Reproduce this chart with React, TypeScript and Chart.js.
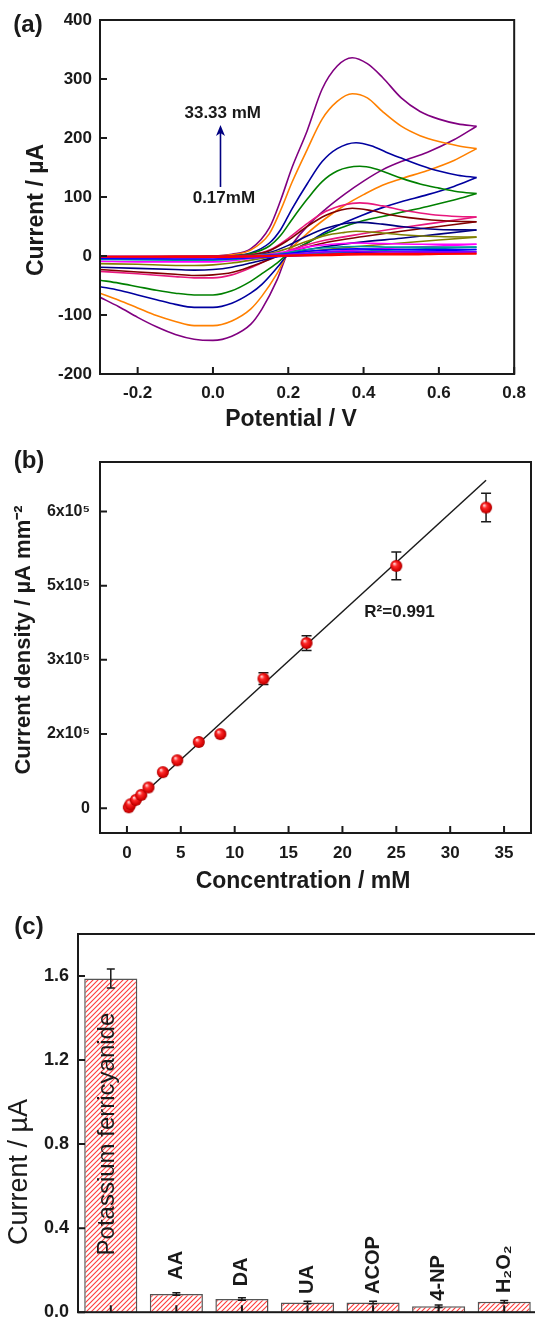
import React, { useEffect, useRef } from "react";
import { Chart, registerables } from "chart.js";
Chart.register(...registerables);

const FONT = '"Liberation Sans", Arial, Helvetica, sans-serif';
const INK = "#1a1a1a";

// ---------------- Panel (a): cyclic voltammograms ----------------
const xTicksA = [-0.2, 0, 0.2, 0.4, 0.6, 0.8];
const yTicksA = [-200, -100, 0, 100, 200, 300, 400];
const cvColors = [
  "#FF0000", "#7F00FF", "#0000FF", "#009999", "#FF00FF", "#808000", "#000080",
  "#800000", "#E8177D", "#008000", "#00009F", "#FF8000", "#800080",
];
const fwd01 = [[-0.3,-1],[0,0],[0.1,0],[0.2,1],[0.3,3],[0.38,4],[0.5,4],[0.7,4]];
const rev01 = [[0.7,4],[0.6,3],[0.5,2],[0.4,2],[0.3,1],[0.2,0],[0.1,-1],[0,-2],[-0.3,-1]];
const fwd02 = [[-0.3,-1],[0,-1],[0.1,0],[0.2,3],[0.25,5],[0.3,7],[0.38,8],[0.5,7],[0.7,7]];
const rev02 = [[0.7,7],[0.6,6],[0.5,5],[0.4,4],[0.3,2],[0.2,0],[0.1,-2],[0,-3],[-0.1,-3],[-0.3,-2]];
const fwd03 = [[-0.3,-1],[0,-1],[0.1,0],[0.15,1],[0.2,4],[0.25,8],[0.3,10],[0.38,12],[0.5,11],[0.7,11]];
const rev03 = [[0.7,11],[0.6,9],[0.5,8],[0.4,6],[0.3,3],[0.2,0],[0.1,-3],[0,-5],[-0.1,-5],[-0.3,-4]];
const fwd04 = [[-0.3,-2],[0,-1],[0.1,0],[0.15,2],[0.2,6],[0.25,11],[0.3,14],[0.38,16],[0.5,15],[0.7,15]];
const rev04 = [[0.7,15],[0.6,13],[0.5,11],[0.4,8],[0.3,5],[0.2,1],[0.1,-3],[0.05,-6],[0,-7],[-0.1,-7],[-0.3,-6]];
const fwd05 = [[-0.3,-2],[0,-1],[0.1,0],[0.15,3],[0.2,8],[0.25,15],[0.3,19],[0.38,22],[0.45,21],[0.55,20],[0.7,20]];
const rev05 = [[0.7,20],[0.6,17],[0.5,14],[0.4,11],[0.3,7],[0.2,2],[0.15,-1],[0.1,-4],[0.05,-8],[0,-10],[-0.1,-10],[-0.2,-10],[-0.3,-9]];
const fwd06 = [[-0.3,-2],[-0.1,-1],[0,-1],[0.1,1],[0.15,4],[0.2,13],[0.25,25],[0.3,35],[0.35,40],[0.38,42],[0.45,39],[0.5,36],[0.6,33],[0.7,32]];
const rev06 = [[0.7,32],[0.6,27],[0.5,22],[0.4,17],[0.3,11],[0.2,3],[0.15,-2],[0.1,-7],[0.05,-12],[0,-15],[-0.05,-16],[-0.1,-16],[-0.2,-14],[-0.3,-13]];
const fwd07 = [[-0.3,-3],[-0.1,-2],[0,-1],[0.1,1],[0.15,6],[0.2,18],[0.25,34],[0.3,47],[0.35,55],[0.39,57],[0.45,54],[0.5,50],[0.55,47],[0.6,45],[0.7,44]];
const rev07 = [[0.7,44],[0.6,37],[0.5,30],[0.4,24],[0.3,16],[0.2,4],[0.15,-4],[0.1,-12],[0.05,-19],[0,-23],[-0.05,-24],[-0.1,-23],[-0.2,-21],[-0.3,-19]];
const fwd08 = [[-0.3,-3],[-0.2,-2],[-0.1,-2],[0,-1],[0.1,2],[0.15,9],[0.2,27],[0.25,50],[0.3,69],[0.34,78],[0.37,81],[0.42,77],[0.47,70],[0.52,65],[0.58,61],[0.64,59],[0.7,58]];
const rev08 = [[0.7,58],[0.6,50],[0.5,42],[0.4,33],[0.3,23],[0.25,15],[0.2,6],[0.15,-6],[0.1,-18],[0.05,-28],[0,-32],[-0.05,-33],[-0.1,-31],[-0.2,-27],[-0.3,-23]];
const fwd09 = [[-0.3,-3],[-0.2,-2],[-0.1,-2],[0,-1],[0.1,2],[0.15,10],[0.2,30],[0.25,55],[0.3,76],[0.35,87],[0.39,90],[0.45,85],[0.5,78],[0.55,73],[0.6,69],[0.65,67],[0.7,66]];
const rev09 = [[0.7,66],[0.6,57],[0.5,48],[0.4,38],[0.3,27],[0.25,19],[0.2,9],[0.15,-5],[0.1,-20],[0.05,-32],[0,-37],[-0.05,-37],[-0.1,-35],[-0.2,-30],[-0.3,-26]];
const fwd10 = [[-0.3,-4],[-0.2,-3],[-0.1,-2],[0,-1],[0.05,0],[0.1,4],[0.15,17],[0.18,35],[0.21,62],[0.25,96],[0.29,126],[0.33,144],[0.39,152],[0.43,148],[0.47,139],[0.5,132],[0.55,122],[0.6,115],[0.65,109],[0.7,106]];
const rev10 = [[0.7,106],[0.64,95],[0.57,84],[0.5,74],[0.45,67],[0.4,60],[0.35,50],[0.3,38],[0.25,22],[0.2,4],[0.17,-12],[0.13,-30],[0.1,-43],[0.05,-59],[0,-66],[-0.05,-66],[-0.1,-63],[-0.15,-58],[-0.2,-52],[-0.25,-46],[-0.3,-41]];
const fwd11 = [[-0.3,-5],[-0.2,-4],[-0.1,-3],[0,-2],[0.05,0],[0.1,5],[0.15,22],[0.18,45],[0.21,80],[0.25,122],[0.29,160],[0.33,182],[0.38,192],[0.42,187],[0.46,176],[0.5,166],[0.55,154],[0.6,144],[0.65,137],[0.7,133]];
const rev11 = [[0.7,133],[0.64,118],[0.57,104],[0.5,92],[0.45,82],[0.4,70],[0.35,57],[0.3,41],[0.25,22],[0.2,3],[0.17,-20],[0.13,-48],[0.1,-63],[0.05,-80],[0,-87],[-0.05,-87],[-0.1,-82],[-0.15,-74],[-0.2,-66],[-0.25,-58],[-0.3,-52]];
const fwd12 = [[-0.3,-3],[-0.2,-2],[-0.1,-1],[0,0],[0.05,2],[0.1,10],[0.15,38],[0.18,78],[0.21,125],[0.25,180],[0.29,232],[0.33,262],[0.37,275],[0.41,268],[0.45,245],[0.5,220],[0.55,204],[0.6,194],[0.65,187],[0.7,182]];
const rev12 = [[0.7,182],[0.64,162],[0.57,145],[0.5,131],[0.45,120],[0.4,104],[0.35,86],[0.3,64],[0.25,38],[0.2,6],[0.17,-30],[0.13,-68],[0.1,-90],[0.05,-110],[0,-118],[-0.05,-118],[-0.1,-111],[-0.15,-101],[-0.2,-88],[-0.25,-75],[-0.3,-63]];
const fwd13 = [[-0.3,-3],[-0.2,-2],[-0.1,-1],[0,0],[0.05,3],[0.1,12],[0.15,48],[0.18,95],[0.21,150],[0.25,212],[0.29,283],[0.33,322],[0.37,336],[0.41,326],[0.45,303],[0.5,268],[0.55,245],[0.6,232],[0.65,224],[0.7,220]];
const rev13 = [[0.7,220],[0.64,197],[0.57,176],[0.5,160],[0.45,146],[0.4,127],[0.35,105],[0.3,80],[0.25,50],[0.2,8],[0.17,-41],[0.13,-90],[0.1,-116],[0.05,-136],[0,-143],[-0.05,-141],[-0.1,-133],[-0.15,-120],[-0.2,-104],[-0.25,-86],[-0.3,-70]];
const cvForward = [fwd01, fwd02, fwd03, fwd04, fwd05, fwd06, fwd07, fwd08, fwd09, fwd10, fwd11, fwd12, fwd13];
const cvReverse = [rev01, rev02, rev03, rev04, rev05, rev06, rev07, rev08, rev09, rev10, rev11, rev12, rev13];
const arrowTextA = ["33.33 mM", "0.17mM"];

// ---------------- Panel (b): calibration ----------------
const concB = [0.17, 0.33, 0.83, 1.33, 2.0, 3.33, 4.67, 6.67, 8.67, 12.67, 16.67, 25.0, 33.33];
const densityB = [0.02, 0.08, 0.17, 0.27, 0.42, 0.73, 0.97, 1.34, 1.5, 2.62, 3.34, 4.9, 6.08]; // x1e5
const densityErrB = [0.02, 0.02, 0.02, 0.03, 0.03, 0.04, 0.04, 0.05, 0.04, 0.12, 0.15, 0.28, 0.29];
const fitXB = [0.17, 33.33];
const fitYB = [0.02, 6.63];
const xTicksB = [0, 5, 10, 15, 20, 25, 30, 35];
const yTicksB = [0, 1.5, 3, 4.5, 6];
const yTickLabelsB = ["0", "2x10\u2075", "3x10\u2075", "5x10\u2075", "6x10\u2075"];
const r2TextB = "R\u00B2=0.991";

// ---------------- Panel (c): selectivity ----------------
const speciesC = ["Potassium ferricyanide", "AA", "DA", "UA", "ACOP", "4-NP", "H\u2082O\u2082"];
const currentC = [1.588, 0.087, 0.063, 0.046, 0.046, 0.028, 0.05];
const currentErrC = [0.045, 0.006, 0.006, 0.006, 0.006, 0.006, 0.006];
const yTicksC = [0, 0.4, 0.8, 1.2, 1.6];

function drawText(ctx: any, s: string, x: number, y: number, font: string, rot = 0, align = "center", baseline = "middle", color = INK) {
  ctx.save();
  ctx.translate(x, y);
  ctx.rotate(rot);
  ctx.font = font;
  ctx.fillStyle = color;
  ctx.textAlign = align;
  ctx.textBaseline = baseline;
  ctx.fillText(s, 0, 0);
  ctx.restore();
}

function baseOptions(padding: any) {
  return {
    responsive: false,
    animation: false,
    events: [],
    layout: { padding, autoPadding: false },
    plugins: { legend: { display: false }, tooltip: { enabled: false } },
  };
}

function makeSphere(r: number) {
  const c = document.createElement("canvas");
  const s = r * 2 + 2;
  c.width = s;
  c.height = s;
  const g = c.getContext("2d")!;
  const grad = g.createRadialGradient(s / 2 - r * 0.35, s / 2 - r * 0.4, r * 0.05, s / 2, s / 2, r);
  grad.addColorStop(0, "#ffe0e0");
  grad.addColorStop(0.35, "#ff2a2a");
  grad.addColorStop(0.85, "#d00000");
  grad.addColorStop(1, "#a00000");
  g.fillStyle = grad;
  g.beginPath();
  g.arc(s / 2, s / 2, r, 0, Math.PI * 2);
  g.fill();
  return c;
}

function makeHatch(ctx: any) {
  const c = document.createElement("canvas");
  c.width = 5;
  c.height = 5;
  const g = c.getContext("2d")!;
  g.fillStyle = "#ffffff";
  g.fillRect(0, 0, 5, 5);
  g.strokeStyle = "#ff3b3b";
  g.lineWidth = 1.1;
  g.beginPath();
  g.moveTo(-1, 6); g.lineTo(6, -1);
  g.moveTo(-1, 1); g.lineTo(1, -1);
  g.moveTo(4, 6); g.lineTo(6, 4);
  g.stroke();
  return ctx.createPattern(c, "repeat");
}

const tickFont = (size: number) => ({ size, weight: "bold" as const, family: FONT });

export default function App() {
  const refA = useRef<HTMLCanvasElement>(null);
  const refB = useRef<HTMLCanvasElement>(null);
  const refC = useRef<HTMLCanvasElement>(null);

  useEffect(() => {
    Chart.defaults.font.family = FONT;
    Chart.defaults.color = INK;
    const charts: Chart[] = [];

    // ---------- (a) ----------
    const dsA: any[] = [];
    cvForward.forEach((f, i) => {
      const common = {
        borderColor: cvColors[i], borderWidth: 1.6, pointRadius: 0, showLine: true,
        cubicInterpolationMode: "monotone", fill: false,
      };
      dsA.push({ ...common, data: f.map(([x, y]) => ({ x, y })) });
      dsA.push({ ...common, data: cvReverse[i].map(([x, y]) => ({ x, y })) });
    });
    const decorA = {
      id: "decorA",
      afterDraw(chart: any) {
        const { ctx, chartArea: ca, scales } = chart;
        const x = scales.x, y = scales.y;
        ctx.save();
        ctx.strokeStyle = INK;
        ctx.lineWidth = 2;
        ctx.strokeRect(ca.left, ca.top, ca.right - ca.left, ca.bottom - ca.top);
        ctx.beginPath();
        xTicksA.forEach((v) => { const p = x.getPixelForValue(v); ctx.moveTo(p, ca.bottom); ctx.lineTo(p, ca.bottom - 7); });
        yTicksA.forEach((v) => { const p = y.getPixelForValue(v); ctx.moveTo(ca.left, p); ctx.lineTo(ca.left + 7, p); });
        ctx.stroke();
        // arrow annotation
        const ax = x.getPixelForValue(0.02);
        const y1 = y.getPixelForValue(117);
        const y2 = y.getPixelForValue(222);
        ctx.strokeStyle = "#000080";
        ctx.fillStyle = "#000080";
        ctx.lineWidth = 1.6;
        ctx.beginPath();
        ctx.moveTo(ax, y1);
        ctx.lineTo(ax, y2 + 8);
        ctx.stroke();
        ctx.beginPath();
        ctx.moveTo(ax, y2);
        ctx.lineTo(ax - 4.5, y2 + 11);
        ctx.lineTo(ax, y2 + 8);
        ctx.lineTo(ax + 4.5, y2 + 11);
        ctx.closePath();
        ctx.fill();
        drawText(ctx, arrowTextA[0], x.getPixelForValue(0.026), y.getPixelForValue(242), `bold 17px ${FONT}`);
        drawText(ctx, arrowTextA[1], x.getPixelForValue(0.029), y.getPixelForValue(97), `bold 17px ${FONT}`);
        drawText(ctx, "(a)", 28, 25, `bold 24px ${FONT}`);
        drawText(ctx, "Current / \u00B5A", 37, 210, `bold 23px ${FONT}`, -Math.PI / 2);
        drawText(ctx, "Potential / V", 291, 420, `bold 23px ${FONT}`);
        ctx.restore();
      },
    };
    charts.push(new Chart(refA.current!, {
      type: "scatter",
      data: { datasets: dsA },
      options: {
        ...baseOptions({ top: 20, right: 14, left: 0, bottom: 0 }),
        scales: {
          x: {
            type: "linear", min: -0.3, max: 0.8,
            afterBuildTicks: (s: any) => { s.ticks = xTicksA.map((v) => ({ value: v })); },
            afterFit: (s: any) => { s.height = 66; },
            grid: { display: false, drawTicks: false }, border: { display: false },
            ticks: { font: tickFont(17), color: INK, padding: 9, maxRotation: 0, autoSkip: false, callback: (v: any) => Number(v).toFixed(1) },
          },
          y: {
            type: "linear", min: -200, max: 400,
            afterBuildTicks: (s: any) => { s.ticks = yTicksA.map((v) => ({ value: v })); },
            afterFit: (s: any) => { s.width = 100; },
            grid: { display: false, drawTicks: false }, border: { display: false },
            ticks: { font: tickFont(17), color: INK, padding: 8, autoSkip: false, callback: (v: any) => String(v) },
          },
        },
      } as any,
      plugins: [decorA],
    }));

    // ---------- (b) ----------
    const sphere = makeSphere(6);
    const decorB = {
      id: "decorB",
      beforeDatasetsDraw(chart: any) {
        const { ctx, scales } = chart;
        const x = scales.x, y = scales.y;
        ctx.save();
        ctx.strokeStyle = INK;
        ctx.lineWidth = 1.5;
        ctx.beginPath();
        concB.forEach((c, i) => {
          const px = x.getPixelForValue(c);
          const top = y.getPixelForValue(densityB[i] + densityErrB[i]);
          const bot = y.getPixelForValue(densityB[i] - densityErrB[i]);
          ctx.moveTo(px, top); ctx.lineTo(px, bot);
          ctx.moveTo(px - 5, top); ctx.lineTo(px + 5, top);
          ctx.moveTo(px - 5, bot); ctx.lineTo(px + 5, bot);
        });
        ctx.stroke();
        ctx.restore();
      },
      afterDraw(chart: any) {
        const { ctx, chartArea: ca, scales } = chart;
        const x = scales.x, y = scales.y;
        ctx.save();
        ctx.strokeStyle = INK;
        ctx.lineWidth = 2;
        ctx.strokeRect(ca.left, ca.top, ca.right - ca.left, ca.bottom - ca.top);
        ctx.beginPath();
        xTicksB.forEach((v) => { const p = x.getPixelForValue(v); ctx.moveTo(p, ca.bottom); ctx.lineTo(p, ca.bottom - 7); });
        yTicksB.forEach((v) => { const p = y.getPixelForValue(v); ctx.moveTo(ca.left, p); ctx.lineTo(ca.left + 7, p); });
        ctx.stroke();
        drawText(ctx, r2TextB, x.getPixelForValue(25.3), y.getPixelForValue(3.97), `bold 17px ${FONT}`);
        drawText(ctx, "(b)", 29, 21, `bold 24px ${FONT}`);
        drawText(ctx, "Current density / \u00B5A mm\u207B\u00B2", 24, 200, `bold 22px ${FONT}`, -Math.PI / 2);
        drawText(ctx, "Concentration / mM", 303, 442, `bold 23px ${FONT}`);
        ctx.restore();
      },
    };
    charts.push(new Chart(refB.current!, {
      type: "scatter",
      data: {
        datasets: [
          {
            data: concB.map((c, i) => ({ x: c, y: densityB[i] })),
            pointStyle: sphere as any, pointRadius: 6, showLine: false,
          },
          {
            data: fitXB.map((c, i) => ({ x: c, y: fitYB[i] })),
            showLine: true, borderColor: INK, borderWidth: 1.5, pointRadius: 0,
          },
        ],
      },
      options: {
        ...baseOptions({ top: 22, right: 4, left: 0, bottom: 0 }),
        scales: {
          x: {
            type: "linear", min: -2.5, max: 37.5,
            afterBuildTicks: (s: any) => { s.ticks = xTicksB.map((v) => ({ value: v })); },
            afterFit: (s: any) => { s.height = 65; },
            grid: { display: false, drawTicks: false }, border: { display: false },
            ticks: { font: tickFont(17), color: INK, padding: 10, maxRotation: 0, autoSkip: false, callback: (v: any) => String(v) },
          },
          y: {
            type: "linear", min: -0.5, max: 7.0,
            afterBuildTicks: (s: any) => { s.ticks = yTicksB.map((v) => ({ value: v })); },
            afterFit: (s: any) => { s.width = 100; },
            grid: { display: false, drawTicks: false }, border: { display: false },
            ticks: { font: tickFont(16), color: INK, padding: 10, autoSkip: false, callback: (_v: any, i: number) => yTickLabelsB[i] },
          },
        },
      } as any,
      plugins: [decorB],
    }));

    // ---------- (c) ----------
    const hatch = makeHatch(refC.current!.getContext("2d"));
    const labelAnchorC = [0.27, 0.155, 0.123, 0.087, 0.087, 0.055, 0.091];
    const decorC = {
      id: "decorC",
      afterDatasetsDraw(chart: any) {
        const { ctx, scales } = chart;
        const x = scales.x, y = scales.y;
        ctx.save();
        ctx.strokeStyle = INK;
        ctx.lineWidth = 1.5;
        ctx.beginPath();
        currentC.forEach((v, i) => {
          const px = x.getPixelForValue(i);
          const top = y.getPixelForValue(v + currentErrC[i]);
          const bot = y.getPixelForValue(v - currentErrC[i]);
          ctx.moveTo(px, top); ctx.lineTo(px, bot);
          ctx.moveTo(px - 4, top); ctx.lineTo(px + 4, top);
          ctx.moveTo(px - 4, bot); ctx.lineTo(px + 4, bot);
        });
        ctx.stroke();
        speciesC.forEach((s, i) => {
          const px = x.getPixelForValue(i);
          const py = y.getPixelForValue(labelAnchorC[i]);
          drawText(ctx, s, px - (i === 0 ? 3 : 0), py, i === 0 ? `24px ${FONT}` : `bold 20px ${FONT}`, -Math.PI / 2, "left", "middle");
        });
        ctx.restore();
      },
      afterDraw(chart: any) {
        const { ctx, chartArea: ca, scales } = chart;
        const x = scales.x, y = scales.y;
        ctx.save();
        ctx.strokeStyle = INK;
        ctx.lineWidth = 2;
        ctx.strokeRect(ca.left, ca.top, ca.right - ca.left, ca.bottom - ca.top);
        ctx.beginPath();
        speciesC.forEach((_s, i) => { const p = x.getPixelForValue(i); ctx.moveTo(p, ca.bottom); ctx.lineTo(p, ca.bottom - 7); });
        yTicksC.forEach((v) => { const p = y.getPixelForValue(v); ctx.moveTo(ca.left, p); ctx.lineTo(ca.left + 7, p); });
        ctx.stroke();
        drawText(ctx, "(c)", 29, 29, `bold 24px ${FONT}`);
        drawText(ctx, "Current / \u00B5A", 20, 274, `27px ${FONT}`, -Math.PI / 2);
        ctx.restore();
      },
    };
    charts.push(new Chart(refC.current!, {
      type: "bar",
      data: {
        labels: speciesC,
        datasets: [{
          data: currentC, backgroundColor: hatch as any, borderColor: "#555555", borderWidth: 1.5,
          barPercentage: 0.81, categoryPercentage: 1.0,
        }],
      },
      options: {
        ...baseOptions({ top: 36, right: 8, left: 0, bottom: 0 }),
        scales: {
          x: {
            type: "category", offset: true,
            afterFit: (s: any) => { s.height = 5; },
            grid: { display: false, drawTicks: false }, border: { display: false },
            ticks: { display: false },
          },
          y: {
            type: "linear", min: 0, max: 1.8,
            afterBuildTicks: (s: any) => { s.ticks = yTicksC.map((v) => ({ value: v })); },
            afterFit: (s: any) => { s.width = 78; },
            grid: { display: false, drawTicks: false }, border: { display: false },
            ticks: { font: tickFont(18), color: INK, padding: 9, autoSkip: false, callback: (v: any) => Number(v).toFixed(1) },
          },
        },
      } as any,
      plugins: [decorC],
    }));

    return () => charts.forEach((c) => c.destroy());
  }, []);

  return (
    <div style={{ position: "absolute", left: 0, top: 0, width: 535, height: 1332, overflow: "hidden", background: "#fff" }}>
      <canvas ref={refA} width={535} height={440} style={{ position: "absolute", left: 0, top: 0, display: "block" }} />
      <canvas ref={refB} width={535} height={458} style={{ position: "absolute", left: 0, top: 440, display: "block" }} />
      <canvas ref={refC} width={545} height={434} style={{ position: "absolute", left: 0, top: 898, display: "block" }} />
    </div>
  );
}
